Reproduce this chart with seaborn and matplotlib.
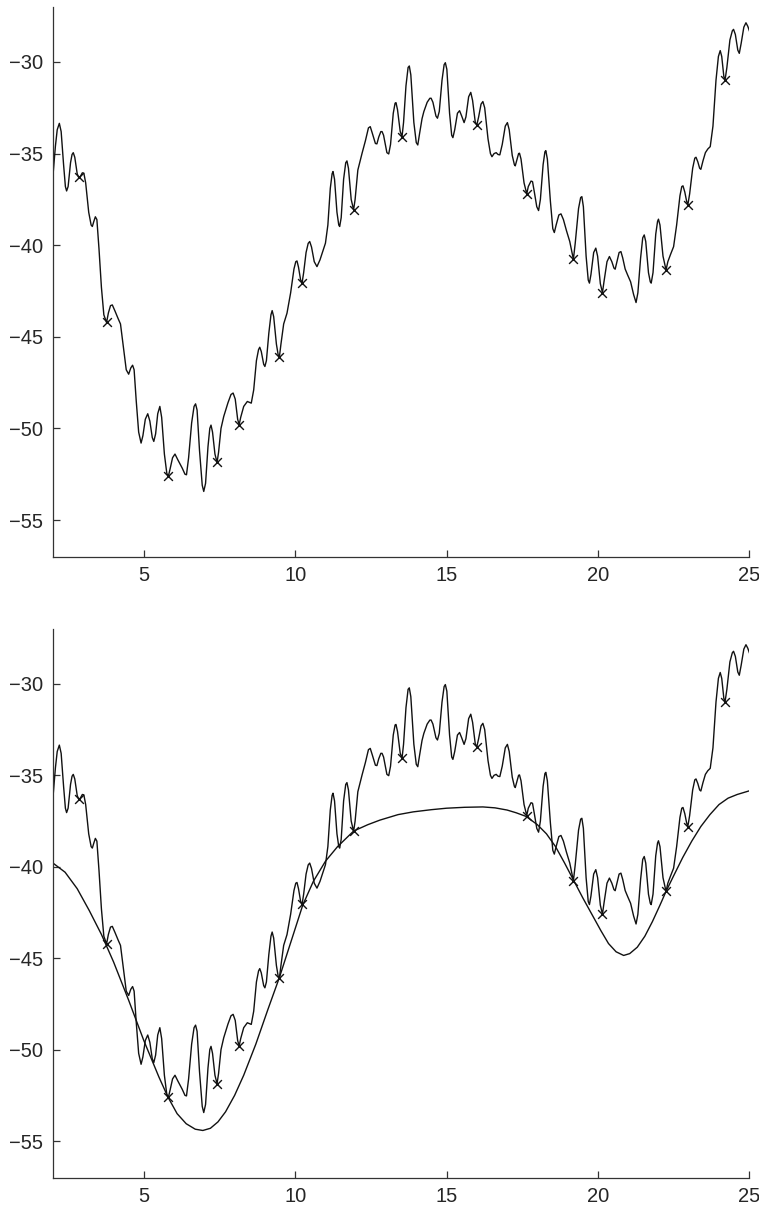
import numpy as np
import pandas as pd
import matplotlib
matplotlib.use('Agg')
import matplotlib.pyplot as plt
import seaborn as sns

# wiggly signal (peaks, troughs and points on their flanks)
sig_x = [2.00, 2.08, 2.14, 2.21, 2.27, 2.35, 2.41, 2.45, 2.50, 2.58, 2.63, 2.67, 2.72,
         2.80, 2.86, 2.92, 2.97, 3.02, 3.08, 3.18, 3.26, 3.30, 3.35, 3.40, 3.45, 3.52,
         3.60, 3.68, 3.77, 3.83, 3.90, 3.96, 4.05, 4.15, 4.23, 4.32, 4.42, 4.50, 4.57,
         4.63, 4.68, 4.75, 4.83, 4.91, 4.97, 5.05, 5.13, 5.20, 5.28, 5.33, 5.39, 5.46,
         5.53, 5.59, 5.68, 5.76, 5.81, 5.87, 5.95, 6.03, 6.12, 6.27, 6.36, 6.41, 6.48,
         6.58, 6.66, 6.71, 6.76, 6.84, 6.93, 6.98, 7.04, 7.12, 7.18, 7.22, 7.27, 7.35,
         7.42, 7.47, 7.55, 7.64, 7.78, 7.88, 7.95, 8.02, 8.10, 8.15, 8.20, 8.30, 8.42,
         8.55, 8.63, 8.72, 8.79, 8.83, 8.88, 8.96, 9.00, 9.05, 9.13, 9.20, 9.24, 9.29,
         9.38, 9.44, 9.48, 9.53, 9.62, 9.73, 9.85, 9.96, 10.02, 10.06, 10.11, 10.18,
         10.23, 10.28, 10.36, 10.43, 10.48, 10.54, 10.63, 10.72, 10.82, 10.92, 11.00,
         11.08, 11.16, 11.22, 11.25, 11.30, 11.38, 11.44, 11.47, 11.52, 11.60, 11.67,
         11.71, 11.76, 11.85, 11.93, 11.98, 12.07, 12.21, 12.32, 12.42, 12.48, 12.55,
         12.65, 12.70, 12.76, 12.83, 12.87, 12.92, 13.03, 13.09, 13.15, 13.24, 13.30,
         13.33, 13.38, 13.47, 13.53, 13.58, 13.66, 13.73, 13.77, 13.82, 13.92, 14.00,
         14.05, 14.11, 14.19, 14.25, 14.36, 14.45, 14.49, 14.55, 14.65, 14.70, 14.76,
         14.85, 14.92, 14.96, 15.01, 15.10, 15.17, 15.21, 15.27, 15.36, 15.43, 15.50,
         15.58, 15.64, 15.73, 15.80, 15.86, 15.95, 16.00, 16.06, 16.14, 16.20, 16.26,
         16.37, 16.45, 16.50, 16.57, 16.64, 16.70, 16.76, 16.84, 16.94, 17.01, 17.07,
         17.17, 17.24, 17.27, 17.33, 17.38, 17.41, 17.46, 17.56, 17.65, 17.70, 17.79,
         17.84, 17.90, 17.98, 18.04, 18.10, 18.19, 18.25, 18.28, 18.33, 18.43, 18.51,
         18.56, 18.62, 18.71, 18.78, 18.86, 18.96, 19.07, 19.19, 19.25, 19.36, 19.43,
         19.47, 19.52, 19.61, 19.68, 19.72, 19.77, 19.86, 19.93, 19.99, 20.08, 20.15,
         20.20, 20.30, 20.38, 20.46, 20.53, 20.57, 20.63, 20.70, 20.76, 20.82, 20.90,
         20.98, 21.08, 21.18, 21.26, 21.32, 21.41, 21.48, 21.53, 21.58, 21.67, 21.73,
         21.76, 21.82, 21.91, 21.97, 22.00, 22.05, 22.15, 22.25, 22.31, 22.40, 22.50,
         22.60, 22.71, 22.77, 22.81, 22.87, 22.93, 22.97, 23.03, 23.13, 23.20, 23.24,
         23.30, 23.36, 23.40, 23.47, 23.55, 23.63, 23.71, 23.80, 23.90, 23.98, 24.04,
         24.09, 24.16, 24.20, 24.26, 24.36, 24.44, 24.48, 24.54, 24.62, 24.67, 24.73,
         24.82, 24.89, 24.95, 25.02]
sig_y = [-36.2, -34.6, -33.7, -33.35, -33.8, -35.6, -36.8, -37.04, -36.8, -35.5, -35.05,
         -34.95, -35.2, -36.1, -36.35, -36.2, -36.05, -36.07, -36.6, -38.2, -38.9, -38.98,
         -38.7, -38.45, -38.6, -40.2, -42.3, -43.8, -44.22, -43.7, -43.3, -43.26, -43.6,
         -44.0, -44.3, -45.5, -46.8, -47.04, -46.7, -46.55, -46.8, -48.5, -50.2, -50.8,
         -50.4, -49.5, -49.2, -49.6, -50.5, -50.71, -50.3, -49.2, -48.8, -49.4, -51.4,
         -52.45, -52.62, -52.2, -51.6, -51.4, -51.7, -52.17, -52.5, -52.53, -51.6, -49.7,
         -48.8, -48.66, -49.0, -51.2, -53.1, -53.44, -53.0, -51.0, -50.0, -49.82, -50.2,
         -51.4, -51.86, -51.3, -50.0, -49.35, -48.6, -48.15, -48.07, -48.4, -49.5, -49.8,
         -49.4, -48.8, -48.53, -48.62, -47.9, -46.3, -45.7, -45.57, -45.8, -46.5, -46.62,
         -46.3, -44.8, -43.8, -43.57, -43.9, -45.4, -46.0, -46.08, -45.4, -44.3, -43.71,
         -42.6, -41.3, -40.9, -40.86, -41.2, -41.9, -42.04, -41.5, -40.4, -39.9, -39.8,
         -40.1, -40.9, -41.17, -40.8, -40.3, -39.89, -38.9, -36.9, -36.1, -35.98, -36.4,
         -38.2, -38.9, -38.98, -38.5, -36.4, -35.5, -35.4, -35.8, -37.5, -38.07, -37.5,
         -35.9, -34.98, -34.3, -33.6, -33.53, -33.9, -34.45, -34.47, -34.1, -33.8, -33.8,
         -34.0, -34.95, -35.02, -34.5, -32.8, -32.25, -32.22, -32.6, -33.8, -34.07, -33.3,
         -31.3, -30.3, -30.22, -30.7, -33.3, -34.4, -34.53, -33.9, -33.1, -32.71, -32.2,
         -31.98, -31.98, -32.2, -32.95, -33.07, -32.7, -31.0, -30.15, -30.04, -30.4, -32.8,
         -34.0, -34.13, -33.7, -32.8, -32.66, -32.95, -33.31, -33.0, -31.9, -31.66, -32.1,
         -33.3, -33.44, -33.0, -32.3, -32.16, -32.5, -34.2, -35.0, -35.17, -35.0, -34.95,
         -35.05, -35.07, -34.5, -33.5, -33.31, -33.7, -35.1, -35.6, -35.67, -35.3, -35.0,
         -34.98, -35.3, -36.6, -37.2, -36.8, -36.5, -36.53, -37.1, -37.9, -38.11, -37.5,
         -35.6, -34.9, -34.84, -35.3, -37.6, -39.1, -39.31, -38.9, -38.35, -38.29, -38.6,
         -39.2, -39.8, -40.77, -39.9, -38.0, -37.4, -37.35, -37.9, -40.6, -41.9, -42.07,
         -41.6, -40.4, -40.16, -40.6, -42.1, -42.59, -42.0, -40.9, -40.62, -40.9, -41.25,
         -41.31, -40.9, -40.4, -40.35, -40.7, -41.3, -41.62, -42.0, -42.7, -43.13, -42.6,
         -40.7, -39.6, -39.44, -39.8, -41.5, -42.0, -42.07, -41.5, -39.4, -38.7, -38.58,
         -38.9, -40.6, -41.35, -40.9, -40.5, -40.08, -38.9, -37.3, -36.8, -36.76, -37.1,
         -37.6, -37.8, -37.2, -35.8, -35.25, -35.2, -35.45, -35.8, -35.86, -35.4, -34.95,
         -34.75, -34.62, -33.5, -31.0, -29.7, -29.38, -29.7, -30.8, -30.98, -30.3, -28.8,
         -28.3, -28.22, -28.5, -29.35, -29.53, -29.0, -28.1, -27.86, -28.05, -28.38]

# selected points (x marks)
mark_x = [2.87, 3.77, 5.81, 7.42, 8.15, 9.48, 10.23, 11.93, 13.53, 16.00, 17.65, 19.19,
          20.15, 22.25, 22.97, 24.20]
mark_y = [-36.3, -44.2, -52.6, -51.86, -49.8, -46.08, -42.04, -38.07, -34.07, -33.44,
          -37.2, -40.77, -42.59, -41.35, -37.8, -30.98]

# smooth fitted curve (lower panel)
fit_x = [2.0, 2.4, 2.8, 3.2, 3.6, 4.0, 4.5, 5.0, 5.5, 5.8, 6.1, 6.4, 6.7, 6.95, 7.2,
         7.45, 7.7, 8.0, 8.3, 8.7, 9.1, 9.48, 9.9, 10.25, 10.6, 11.0, 11.4, 11.93, 12.4,
         12.8, 13.4, 13.9, 14.5, 15.0, 15.6, 16.2, 16.6, 17.0, 17.3, 17.63, 18.0, 18.3,
         18.6, 18.9, 19.2, 19.5, 19.8, 20.1, 20.35, 20.6, 20.85, 21.05, 21.3, 21.55,
         21.8, 22.05, 22.25, 22.5, 22.8, 23.1, 23.4, 23.7, 24.0, 24.3, 24.6, 25.0]
fit_y = [-39.8, -40.3, -41.2, -42.4, -43.7, -45.2, -47.3, -49.5, -51.5, -52.6, -53.5,
         -54.05, -54.35, -54.42, -54.3, -53.95, -53.4, -52.5, -51.4, -49.7, -47.8, -46.05,
         -43.9, -42.1, -40.8, -39.7, -38.9, -38.05, -37.7, -37.45, -37.15, -37.0, -36.88,
         -36.8, -36.75, -36.73, -36.78, -36.9, -37.05, -37.25, -37.7, -38.2, -38.9, -39.8,
         -40.75, -41.7, -42.6, -43.5, -44.2, -44.65, -44.85, -44.75, -44.4, -43.8, -43.0,
         -42.1, -41.35, -40.5, -39.5, -38.6, -37.8, -37.15, -36.6, -36.25, -36.05, -35.85]

sig = pd.DataFrame({'x': sig_x, 'y': sig_y})
marks = pd.DataFrame({'x': mark_x, 'y': mark_y})
fit = pd.DataFrame({'x': fit_x, 'y': fit_y})

sns.set_style('white')
plt.rcParams['font.family'] = ['Liberation Sans', 'DejaVu Sans']

fig = plt.figure(figsize=(7.59, 12.07), dpi=100)
ax1 = fig.add_axes([0.0698, 0.5388, 0.9174, 0.4554])
ax2 = fig.add_axes([0.0698, 0.0243, 0.9174, 0.4546])

for ax in (ax1, ax2):
    sns.lineplot(data=sig, x='x', y='y', sort=False, estimator=None, color='#111111',
                 lw=1.0, ax=ax)
    sns.scatterplot(data=marks, x='x', y='y', marker='x', s=40, color='#111111',
                    linewidth=1.0, ax=ax, zorder=3)
    ax.set_xlim(2, 25)
    ax.set_ylim(-57, -27)
    ax.set_xticks([5, 10, 15, 20, 25])
    ax.set_yticks([-55, -50, -45, -40, -35, -30])
    ax.set_xlabel('')
    ax.set_ylabel('')
    sns.despine(ax=ax)
    for s in ('left', 'bottom'):
        ax.spines[s].set_color('#333333')
        ax.spines[s].set_linewidth(0.9)
    ax.tick_params(direction='in', length=5, width=0.9, color='#333333',
                   bottom=True, left=True, labelsize=14.5, pad=7)

sns.lineplot(data=fit, x='x', y='y', sort=False, estimator=None, color='#111111',
             lw=1.0, ax=ax2)
ax2.set_xlabel('')
ax2.set_ylabel('')

plt.savefig('out.png', dpi=100)
